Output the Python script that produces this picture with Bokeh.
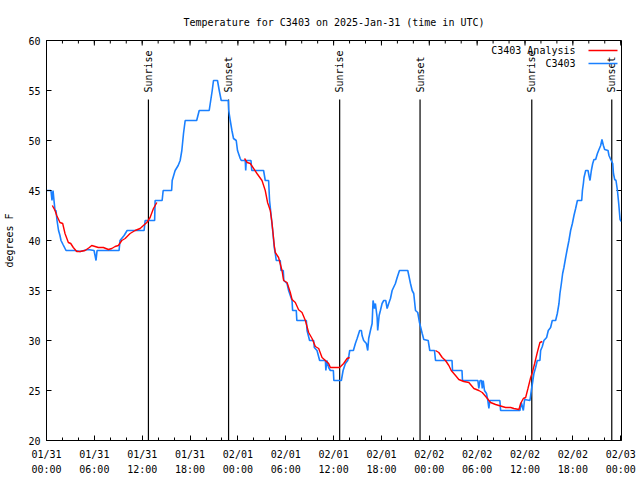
from bokeh.plotting import figure
from bokeh.models import Range1d, FixedTicker
from bokeh.embed import file_html
from bokeh.resources import INLINE
from bokeh.core.properties import value

# hours since 2025-01-31 00:00 UTC
obs_hours = [0.00, 0.56, 0.69, 0.82, 0.94, 1.07, 1.19, 1.32, 1.51, 1.69, 1.82, 2.07, 2.45, 3.58, 4.21, 5.21,
             5.96, 6.09, 6.21, 6.34, 7.34, 8.22, 9.10, 9.22, 9.73, 10.11, 12.24, 12.37, 13.56, 13.62, 14.50,
             14.63, 15.69, 15.76, 16.13, 16.51, 16.76, 16.97, 17.18, 17.39, 18.83, 19.15, 20.40, 20.59, 20.78,
             20.94, 21.44, 21.66, 21.91, 22.79, 22.85, 23.04, 23.25, 23.45, 23.79, 23.95, 24.29, 24.42, 24.92,
             24.98, 25.05, 25.64, 25.74, 27.22, 27.43, 27.85, 27.97, 28.06, 28.27, 28.40, 28.56, 28.69, 28.81,
             29.31, 29.40, 29.69, 29.76, 30.16, 30.36, 30.57, 30.79, 30.86, 31.32, 31.39, 32.58, 32.67, 32.99,
             33.50, 33.58, 33.92, 34.25, 34.97, 35.03, 35.15, 35.38, 35.59, 35.97, 36.03, 36.97, 37.19, 37.48,
             37.77, 37.92, 38.02, 38.48, 38.73, 38.95, 39.27, 39.49, 39.57, 39.77, 40.11, 40.28, 40.40, 40.62,
             40.83, 40.95, 41.12, 41.24, 41.46, 41.53, 41.71, 41.87, 42.08, 42.29, 42.54, 42.71, 42.91, 43.13,
             43.34, 43.75, 43.97, 44.26, 45.30, 45.64, 45.85, 46.05, 46.27, 46.55, 46.77, 47.11, 47.31, 47.86,
             48.06, 48.65, 48.78, 50.85, 50.91, 52.10, 52.16, 54.09, 54.21, 54.36, 54.55, 54.64, 54.76, 54.92,
             55.17, 55.34, 55.47, 55.59, 56.85, 56.94, 59.36, 59.54, 59.79, 59.95, 60.62, 60.79, 60.99, 61.12,
             61.33, 61.54, 61.87, 61.96, 62.17, 62.37, 62.71, 62.92, 63.21, 63.42, 63.84, 64.05, 64.26, 64.38,
             64.56, 64.72, 64.88, 65.10, 65.31, 65.51, 65.72, 65.94, 66.14, 66.35, 66.57, 67.11, 67.20, 67.32,
             67.40, 67.61, 67.90, 68.02, 68.15, 68.32, 68.49, 68.65, 68.86, 69.08, 69.28, 69.49, 69.65, 69.83,
             69.99, 70.41, 70.53, 70.75, 71.00, 71.09, 71.25, 71.41, 71.59, 71.75, 71.92, 72.05]
obs_temp = [45, 45, 44, 45, 44, 43, 43, 42, 41, 40.5, 40, 39.6, 39, 39, 38.9, 39.1,
            39, 38.5, 38, 39, 39, 39, 39, 40, 40.5, 41, 41, 42, 42, 44, 44,
            45, 45, 46, 47, 47.5, 48, 49, 50.7, 52, 52, 53, 53, 54, 55,
            56, 56, 55, 54, 54, 53, 52, 51, 50.2, 50, 49, 48.2, 48, 48,
            47, 48, 48, 47, 47, 46, 46, 44, 43.3, 41.7, 40.7, 39.3, 38.7, 38,
            38, 37, 37, 36, 35.7, 35, 34.5, 34, 33, 33, 32, 32, 31, 30,
            30, 29.3, 29, 28, 28, 27, 28, 27.3, 27, 27, 26, 26, 27, 27.7,
            28, 28.5, 29, 29, 29.7, 30.2, 31, 31, 30.5, 30, 29.7, 29, 30.2, 31,
            31.7, 34, 33.2, 33.7, 32.3, 31, 32.5, 33, 33.7, 34, 34, 33.2, 33.7, 34.2,
            35, 35.7, 36.3, 37, 37, 35.7, 35, 34.7, 33, 32.8, 31.8, 30.7, 30.1, 30,
            29, 29, 28, 28, 27, 27, 26, 26, 25.2, 26, 26, 25.2, 26, 25,
            24.7, 24, 23.2, 24, 24, 23, 23, 23.8, 23, 24.1, 24, 25, 26, 26.7,
            27.3, 28, 28, 29, 29.4, 30, 30.3, 31, 31.3, 32, 32, 32.7, 33.7, 34.7,
            35.7, 36.7, 37.3, 38.3, 39.2, 40, 41, 41.7, 42.5, 43.2, 44, 44, 45, 45.7,
            46.3, 47, 47, 46.5, 46, 47, 47.7, 48.1, 48.1, 48.7, 49.1, 49.5, 50.1, 49.5,
            49.1, 49, 48.5, 48.1, 47.7, 46.7, 46.1, 46, 45, 43.7, 42.1, 41.9]

ana1_hours = [0.73, 1.07, 1.28, 1.69, 2.03, 2.32, 2.74, 3.04, 3.36, 3.79, 4.21, 4.83, 5.37, 5.67, 6.09, 6.50,
              7.13, 7.76, 8.19, 8.60, 9.01, 9.44, 9.86, 10.48, 11.11, 11.74, 12.15, 12.58, 12.99, 13.41, 13.84]
ana1_temp = [43.5, 43.0, 42.5, 41.8, 41.7, 40.7, 39.8, 39.7, 39.3, 38.9, 38.9, 39.0, 39.3, 39.5, 39.4, 39.3,
             39.3, 39.1, 39.2, 39.4, 39.5, 40.0, 40.2, 40.7, 41.0, 41.2, 41.5, 41.8, 42.3, 43.2, 43.8]

ana2_hours = [24.83, 25.17, 25.55, 26.39, 27.02, 27.43, 27.72, 28.06, 28.27, 28.56, 28.69, 29.10, 29.53, 29.73,
              30.16, 30.57, 30.79, 31.20, 31.61, 32.04, 32.46, 32.87, 33.30, 33.71, 34.13, 34.55, 34.97, 35.38,
              35.59, 36.22, 36.76, 37.26, 37.69, 38.02]
ana2_temp = [48.2, 47.8, 47.7, 46.7, 46.0, 45.0, 43.8, 43.0, 41.8, 39.5, 38.8, 38.3, 37.0, 36.0,
             35.8, 34.8, 34.1, 33.8, 33.07, 32.8, 32.0, 30.8, 30.2, 29.4, 29.2, 28.3, 28.0, 27.7,
             27.3, 27.3, 27.3, 27.7, 28.2, 28.3]

ana3_hours = [48.78, 49.19, 49.62, 50.03, 50.45, 50.75, 51.29, 51.70, 52.33, 52.96, 53.59, 54.21, 54.64, 55.18,
              55.68, 56.31, 56.94, 57.57, 58.20, 58.61, 59.24, 59.45, 59.79, 60.08, 60.37, 60.71, 60.92, 61.21,
              61.54, 61.87, 62.17]
ana3_temp = [29.0, 28.8, 28.3, 28.0, 27.5, 27.0, 26.5, 26.1, 25.9, 25.8, 25.2, 25.0, 24.8, 24.3,
             23.8, 23.6, 23.45, 23.3, 23.3, 23.2, 23.1, 23.7, 24.2, 24.3, 25.2, 26.3, 26.8, 27.7,
             28.8, 29.8, 29.9]

sunrise_hours = [12.78, 36.76, 60.85]
sunset_hours = [22.83, 46.84, 70.88]

x_tick_hours = [0, 6, 12, 18, 24, 30, 36, 42, 48, 54, 60, 66, 72]
x_tick_dates = ["01/31", "01/31", "01/31", "01/31", "02/01", "02/01", "02/01", "02/01",
                "02/02", "02/02", "02/02", "02/02", "02/03"]
x_tick_times = ["00:00", "06:00", "12:00", "18:00", "00:00", "06:00", "12:00", "18:00",
                "00:00", "06:00", "12:00", "18:00", "00:00"]
x_minor_hours = list(range(0, 73, 2))
y_ticks = [20, 25, 30, 35, 40, 45, 50, 55, 60]

X0, X1 = 0, 72.1
Y0, Y1 = 20, 60
FRAME_W, FRAME_H = 575, 400
FONT = "DejaVu Sans Mono"
FS = "10px"
RED = "#ff0000"
BLUE = "#1a80ff"

p = figure(width=640, height=480, x_range=Range1d(X0, X1), y_range=Range1d(Y0, Y1),
           output_backend="svg", toolbar_location=None,
           min_border_left=46, min_border_right=19, min_border_top=40, min_border_bottom=40,
           title="Temperature for C3403 on 2025-Jan-31 (time in UTC)")
p.title.align = "center"
p.title.text_font = FONT
p.title.text_font_size = FS
p.title.text_font_style = "normal"
p.title.text_color = "black"
p.title.standoff = 25
p.grid.visible = False
p.outline_line_color = "black"
p.background_fill_color = "white"

xt = FixedTicker(ticks=x_tick_hours, minor_ticks=x_minor_hours)
yt = FixedTicker(ticks=y_ticks, minor_ticks=[])

def style(ax):
    ax.axis_line_color = "black"
    ax.major_tick_line_color = "black"
    ax.minor_tick_line_color = "black"
    ax.major_tick_in = 5
    ax.major_tick_out = 0
    ax.minor_tick_in = 3
    ax.minor_tick_out = 0
    ax.major_label_text_font = FONT
    ax.major_label_text_font_size = FS
    ax.major_label_text_color = "black"

xa = p.xaxis[0]
xa.ticker = xt
style(xa)
xa.major_label_overrides = {h: d + "\n" + t for h, d, t in zip(x_tick_hours, x_tick_dates, x_tick_times)}
xa.major_label_text_line_height = 1.4
xa.major_label_standoff = 8

ya = p.yaxis[0]
ya.ticker = yt
style(ya)
ya.major_label_standoff = 6
ya.axis_label = "degrees F"
ya.axis_label_text_font = FONT
ya.axis_label_text_font_size = FS
ya.axis_label_text_font_style = "normal"
ya.axis_label_text_color = "black"
ya.axis_label_standoff = 10

# mirrored ticks on the right and top edges (as in gnuplot)
dx = (X1 - X0) / FRAME_W
dy = (Y1 - Y0) / FRAME_H
p.segment(x0=[X1] * len(y_ticks), y0=y_ticks, x1=[X1 - 5 * dx] * len(y_ticks), y1=y_ticks,
          line_color="black", line_width=1)
p.segment(x0=x_tick_hours, y0=[Y1] * len(x_tick_hours), x1=x_tick_hours,
          y1=[Y1 - 5 * dy] * len(x_tick_hours), line_color="black", line_width=1)
p.segment(x0=x_minor_hours, y0=[Y1] * len(x_minor_hours), x1=x_minor_hours,
          y1=[Y1 - 3 * dy] * len(x_minor_hours), line_color="black", line_width=1)

# sunrise / sunset markers
ev_hours = sunrise_hours + sunset_hours
ev_names = ["Sunrise"] * len(sunrise_hours) + ["Sunset"] * len(sunset_hours)
line_top = Y1 - 59 * dy
label_base = Y1 - 52 * dy
p.segment(x0=ev_hours, y0=[Y0] * len(ev_hours), x1=ev_hours, y1=[line_top] * len(ev_hours),
          line_color="black", line_width=1.2)
p.text(x=ev_hours, y=[label_base] * len(ev_hours), text=ev_names, angle=1.5708,
       text_align="left", text_baseline="middle", text_font=value(FONT), text_font_size=FS,
       text_color="black")

# data
p.line(obs_hours, obs_temp, line_color=BLUE, line_width=1.6)
for hh, tt in ((ana1_hours, ana1_temp), (ana2_hours, ana2_temp), (ana3_hours, ana3_temp)):
    p.line(hh, tt, line_color=RED, line_width=1.4)

# key (top right, gnuplot style: text then sample)
kx_text = X1 - 46 * dx
kx0 = X1 - 33 * dx
kx1 = X1 - 4 * dx
ky = [Y1 - 10 * dy, Y1 - 23 * dy]
p.text(x=[kx_text, kx_text], y=ky, text=["C3403 Analysis", "C3403"], text_align="right",
       text_baseline="middle", text_font=value(FONT), text_font_size=FS, text_color="black")
p.segment(x0=[kx0, kx0], y0=ky, x1=[kx1, kx1], y1=ky, line_color=[RED, BLUE], line_width=1.5)

open("out.html", "w").write(file_html(p, INLINE))
